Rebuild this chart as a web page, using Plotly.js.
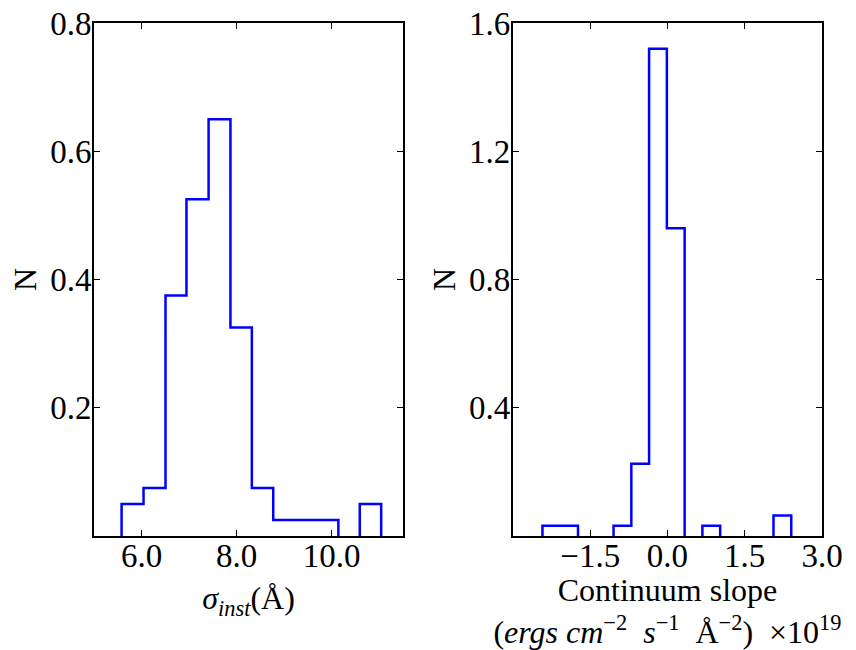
<!DOCTYPE html>
<html>
<head>
<meta charset="utf-8">
<script src="https://cdn.plot.ly/plotly-3.0.1.min.js"></script>
<style>html,body{margin:0;padding:0;background:#fff;}#chart{width:856px;height:650px;}</style>
</head>
<body>
<div id="chart"></div>
<script>
// Left panel: sigma_inst histogram (bin edges and normalised counts)
const sigmaEdges = [5.58, 6.042, 6.504, 6.945, 7.41, 7.87, 8.32, 8.77, 9.22, 9.68, 10.14, 10.59, 11.04];
const sigmaN = [0.05, 0.075, 0.375, 0.525, 0.65, 0.325, 0.075, 0.025, 0.025, 0.025, 0, 0.05];

// Right panel: continuum slope histogram
const slopeEdges = [-2.427, -2.082, -1.737, -1.392, -1.047, -0.702, -0.357, -0.012, 0.333, 0.678, 1.023, 1.368, 1.713, 2.058, 2.403];
const slopeN = [0.032, 0.032, 0, 0, 0.032, 0.225, 1.52, 0.96, 0, 0.032, 0, 0, 0, 0.064];

// Tick labels
const sigmaXTicks = [6, 8, 10];
const sigmaXTickText = ['6.0', '8.0', '10.0'];
const sigmaYTicks = [0.2, 0.4, 0.6, 0.8];
const sigmaYTickText = ['0.2', '0.4', '0.6', '0.8'];
const slopeXTicks = [-1.5, 0, 1.5, 3.0];
const slopeXTickText = ['\u22121.5', '0.0', '1.5', '3.0'];
const slopeYTicks = [0.4, 0.8, 1.2, 1.6];
const slopeYTickText = ['0.4', '0.8', '1.2', '1.6'];

// Step outline; empty bins leave a gap so the axis spine shows through
function stepXY(edges, vals) {
  const x = [edges[0]];
  const y = [0];
  for (let i = 0; i < vals.length; i++) {
    if (vals[i] === 0) {
      x.push(edges[i]); y.push(0);
      x.push(null); y.push(null);
      x.push(edges[i + 1]); y.push(0);
    } else {
      x.push(edges[i]); y.push(vals[i]);
    }
  }
  x.push(edges[edges.length - 1]); y.push(0);
  return {x, y};
}

const s1 = stepXY(sigmaEdges, sigmaN);
const s2 = stepXY(slopeEdges, slopeN);

const FONT = 'Liberation Serif, Times New Roman, serif';
const lineStyle = {color: '#0000ff', width: 2.5, shape: 'hv'};

const traces = [
  {x: s1.x, y: s1.y, type: 'scatter', mode: 'lines', line: lineStyle, connectgaps: false, xaxis: 'x', yaxis: 'y', hoverinfo: 'skip', showlegend: false},
  {x: s2.x, y: s2.y, type: 'scatter', mode: 'lines', line: lineStyle, connectgaps: false, xaxis: 'x2', yaxis: 'y2', hoverinfo: 'skip', showlegend: false}
];

const axBase = {
  showline: true, linecolor: '#000', linewidth: 2, mirror: 'allticks',
  ticks: 'inside', ticklen: 6, tickwidth: 1, tickcolor: '#000',
  showgrid: false, zeroline: false,
  tickfont: {family: FONT, size: 33, color: '#000'}
};

const TF = {family: FONT, size: 32, color: '#000'};

const layout = {
  width: 856, height: 650,
  margin: {l: 94, r: 34, t: 23, b: 114},
  paper_bgcolor: '#fff', plot_bgcolor: '#fff',
  font: {family: FONT, size: 32, color: '#000'},
  showlegend: false,
  xaxis: Object.assign({}, axBase, {
    domain: [0, 0.4245], range: [5, 11.5], ticklabelstandoff: -11,
    tickmode: 'array', tickvals: sigmaXTicks, ticktext: sigmaXTickText,
    title: {text: '<i>σ<sub>inst</sub></i>(Å)', font: TF, standoff: 14}
  }),
  yaxis: Object.assign({}, axBase, {
    domain: [0, 1], range: [0, 0.8], ticklabelstandoff: -6,
    tickmode: 'array', tickvals: sigmaYTicks, ticktext: sigmaYTickText,
    title: {text: 'N', font: TF, standoff: 4}
  }),
  xaxis2: Object.assign({}, axBase, {
    domain: [0.5755, 1], range: [-3, 3], anchor: 'y2', ticklabelstandoff: -11,
    tickmode: 'array', tickvals: slopeXTicks, ticktext: slopeXTickText,
    title: {text: 'Continuum slope<br>(<i>ergs cm</i><sup>\u22122</sup>  <i>s</i><sup>\u22121</sup>  Å<sup>\u22122</sup>)  ×10<sup>19</sup>', font: TF, standoff: 14}
  }),
  yaxis2: Object.assign({}, axBase, {
    domain: [0, 1], range: [0, 1.6], anchor: 'x2', ticklabelstandoff: -6,
    tickmode: 'array', tickvals: slopeYTicks, ticktext: slopeYTickText,
    title: {text: 'N', font: TF, standoff: 4}
  })
};

Plotly.newPlot('chart', traces, layout, {staticPlot: true, displayModeBar: false});
</script>
</body>
</html>
